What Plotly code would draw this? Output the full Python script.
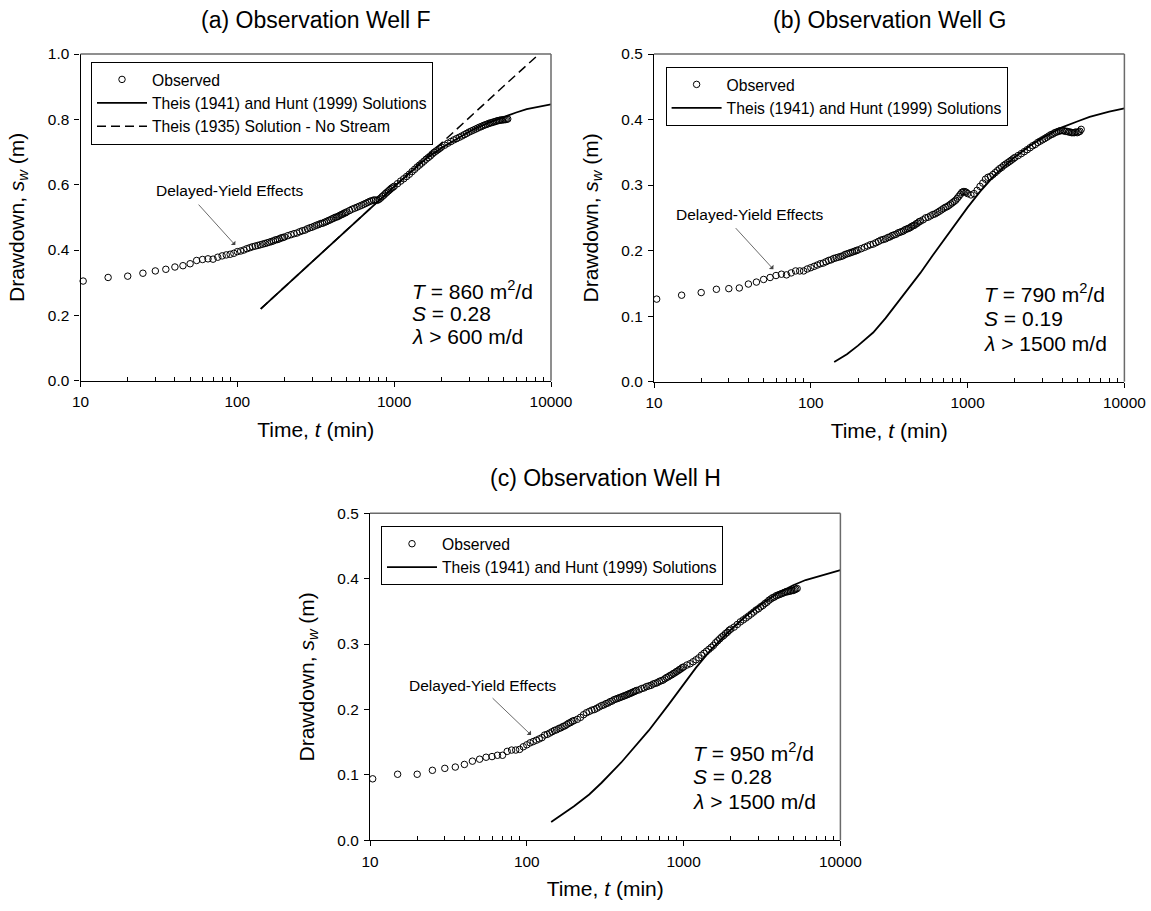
import math
import plotly.graph_objects as go

W, H = 1151, 911
FONT = "Liberation Sans, Arial, Helvetica, sans-serif"

# ---------------- data ----------------
t_obs = [10.4, 15, 20, 25, 30, 35, 40, 45, 50, 55, 60, 65, 70, 75, 80, 85, 90, 95, 100,
         105, 110, 115, 120, 125, 130, 135, 140, 145, 150, 155, 160, 165, 170, 175, 180, 185, 190, 195, 200,
         210, 220, 230, 240, 250, 260, 270, 280, 290, 300, 310, 320, 330, 340, 350, 360, 370, 380, 390, 400,
         410, 420, 430, 440, 450, 460, 470, 480, 490, 500,
         520, 540, 560, 580, 600, 620, 640, 660, 680, 700, 720, 740, 760, 780, 800, 820, 840, 860, 880, 900,
         920, 940, 960, 980, 1000,
         1050, 1100, 1150, 1200, 1250, 1300, 1350, 1400, 1450, 1500, 1550, 1600, 1650, 1700, 1750, 1800,
         1850, 1900, 1950, 2000,
         2100, 2200, 2300, 2400, 2500, 2600, 2700, 2800, 2900, 3000, 3100, 3200, 3300, 3400, 3500, 3600,
         3700, 3800, 3900, 4000, 4100, 4200, 4300, 4400, 4500, 4600, 4700, 4800, 4900, 5000, 5100, 5200, 5300]

obs_F = [0.305, 0.316, 0.320, 0.329, 0.336, 0.341, 0.348, 0.352, 0.358, 0.368, 0.371, 0.373, 0.372, 0.378,
         0.382, 0.385, 0.387, 0.390, 0.395,
         0.397, 0.400, 0.404, 0.407, 0.410, 0.412, 0.414, 0.416, 0.418, 0.420, 0.422, 0.424, 0.426, 0.428,
         0.431, 0.432, 0.434, 0.437, 0.438, 0.440,
         0.444, 0.447, 0.450, 0.452, 0.456, 0.459, 0.461, 0.465, 0.468, 0.470, 0.473, 0.476, 0.478, 0.481,
         0.482, 0.485, 0.487, 0.490, 0.492, 0.495, 0.497, 0.500, 0.501, 0.503, 0.506, 0.508, 0.510, 0.513,
         0.514, 0.517,
         0.521, 0.525, 0.528, 0.531, 0.534, 0.537, 0.540, 0.543, 0.546, 0.549, 0.551, 0.553, 0.553, 0.552,
         0.555, 0.559, 0.564, 0.568, 0.573, 0.577, 0.581, 0.585, 0.589, 0.592, 0.595,
         0.603, 0.611, 0.618, 0.625, 0.632, 0.640, 0.647, 0.654, 0.660, 0.666, 0.672, 0.678, 0.683, 0.688,
         0.694, 0.699, 0.703, 0.707, 0.711, 0.715,
         0.721, 0.727, 0.732, 0.737, 0.741, 0.745, 0.749, 0.753, 0.757, 0.761, 0.764, 0.767, 0.770, 0.773,
         0.776, 0.778, 0.781, 0.783, 0.785, 0.787, 0.789, 0.790, 0.792, 0.793, 0.795, 0.796, 0.797, 0.798,
         0.798, 0.799, 0.799, 0.800, 0.801]

obs_G = [0.126, 0.132, 0.136, 0.141, 0.142, 0.143, 0.149, 0.152, 0.156, 0.159, 0.162, 0.164, 0.163, 0.166,
         0.169, 0.169, 0.169, 0.172, 0.174,
         0.176, 0.178, 0.180, 0.181, 0.183, 0.185, 0.186, 0.188, 0.189, 0.190, 0.191, 0.192, 0.194, 0.195,
         0.196, 0.197, 0.198, 0.199, 0.200, 0.201,
         0.203, 0.205, 0.207, 0.209, 0.210, 0.212, 0.214, 0.216, 0.217, 0.218, 0.220, 0.221, 0.223, 0.224,
         0.225, 0.227, 0.228, 0.229, 0.230, 0.232, 0.233, 0.234, 0.235, 0.237, 0.238, 0.239, 0.241, 0.242,
         0.244, 0.245,
         0.247, 0.250, 0.251, 0.253, 0.255, 0.256, 0.258, 0.260, 0.262, 0.264, 0.266, 0.267, 0.269, 0.271,
         0.273, 0.275, 0.277, 0.280, 0.283, 0.286, 0.289, 0.290, 0.290, 0.289, 0.287,
         0.285, 0.287, 0.292, 0.298, 0.303, 0.309, 0.312, 0.313, 0.316, 0.319, 0.322, 0.325, 0.327, 0.330,
         0.332, 0.334, 0.336, 0.338, 0.340, 0.342,
         0.345, 0.348, 0.351, 0.354, 0.357, 0.360, 0.362, 0.365, 0.367, 0.369, 0.371, 0.373, 0.375, 0.377,
         0.378, 0.380, 0.381, 0.382, 0.383, 0.383, 0.383, 0.382, 0.382, 0.381, 0.381, 0.380, 0.380, 0.380,
         0.381, 0.380, 0.381, 0.382, 0.385]

obs_H = [0.094, 0.101, 0.101, 0.107, 0.110, 0.112, 0.116, 0.121, 0.124, 0.127, 0.128, 0.130, 0.130, 0.136,
         0.138, 0.138, 0.139, 0.143, 0.146,
         0.149, 0.151, 0.153, 0.155, 0.157, 0.161, 0.162, 0.164, 0.166, 0.168, 0.169, 0.171, 0.172, 0.174,
         0.175, 0.177, 0.179, 0.180, 0.182, 0.183,
         0.185, 0.188, 0.192, 0.195, 0.197, 0.199, 0.200, 0.202, 0.204, 0.206, 0.207, 0.209, 0.210, 0.212,
         0.213, 0.215, 0.216, 0.217, 0.218, 0.219, 0.220, 0.221, 0.222, 0.223, 0.224, 0.225, 0.226, 0.227,
         0.228, 0.229,
         0.230, 0.232, 0.233, 0.235, 0.236, 0.237, 0.239, 0.240, 0.241, 0.243, 0.244, 0.245, 0.247, 0.249,
         0.250, 0.252, 0.253, 0.255, 0.256, 0.258, 0.259, 0.261, 0.262, 0.264, 0.265,
         0.268, 0.270, 0.273, 0.276, 0.279, 0.283, 0.286, 0.289, 0.292, 0.295, 0.298, 0.302, 0.305, 0.308,
         0.311, 0.313, 0.316, 0.318, 0.321, 0.323,
         0.326, 0.330, 0.334, 0.337, 0.340, 0.343, 0.346, 0.349, 0.352, 0.354, 0.357, 0.359, 0.362, 0.364,
         0.367, 0.369, 0.371, 0.372, 0.374, 0.375, 0.376, 0.377, 0.378, 0.379, 0.380, 0.380, 0.381, 0.381,
         0.382, 0.382, 0.383, 0.384, 0.385]

# Theis (1941) and Hunt (1999) solutions
t_sol_F = [141, 200, 300, 500, 700, 1000, 1300, 1600, 2000, 2500, 3000, 4000, 5000, 6000, 7000, 8500, 10000]
sol_F = [0.220, 0.287, 0.364, 0.462, 0.526, 0.594, 0.642, 0.680, 0.712, 0.740, 0.762, 0.790, 0.808, 0.821,
         0.831, 0.840, 0.846]
# Theis (1935) solution - no stream
t_nostream_F = [141, 200, 300, 500, 700, 1000, 1500, 2000, 3000, 5000, 8400]
nostream_F = [0.220, 0.287, 0.364, 0.462, 0.526, 0.594, 0.671, 0.726, 0.804, 0.902, 1.000]

t_sol_G = [141, 170, 200, 250, 300, 400, 500, 600, 700, 800, 1000, 1200, 1500, 2000, 2500, 3000, 4000,
           5000, 6000, 8000, 10000]
sol_G = [0.030, 0.042, 0.055, 0.075, 0.097, 0.135, 0.166, 0.193, 0.215, 0.234, 0.266, 0.290, 0.316, 0.343,
         0.360, 0.372, 0.388, 0.397, 0.404, 0.412, 0.417]

t_sol_H = [143, 170, 200, 250, 300, 400, 500, 600, 800, 1000, 1200, 1500, 2000, 2500, 3000, 4000, 5000,
           6000, 8000, 10000]
sol_H = [0.028, 0.040, 0.052, 0.070, 0.088, 0.119, 0.146, 0.168, 0.207, 0.238, 0.264, 0.292, 0.322, 0.343,
         0.358, 0.378, 0.390, 0.398, 0.407, 0.413]

x_tick_vals = [10, 100, 1000, 10000]
x_tick_text = ["10", "100", "1000", "10000"]
x_minor_vals = [20, 30, 40, 50, 60, 70, 80, 90, 200, 300, 400, 500, 600, 700, 800, 900,
                2000, 3000, 4000, 5000, 6000, 7000, 8000, 9000]
y_ticks_F = [0.0, 0.2, 0.4, 0.6, 0.8, 1.0]
y_ticks_F_text = ["0.0", "0.2", "0.4", "0.6", "0.8", "1.0"]
y_ticks_GH = [0.0, 0.1, 0.2, 0.3, 0.4, 0.5]
y_ticks_GH_text = ["0.0", "0.1", "0.2", "0.3", "0.4", "0.5"]

titles = ["(a) Observation Well F", "(b) Observation Well G", "(c) Observation Well H"]
param_lines = [
    ["<i>T</i> = 860 m<sup>2</sup>/d", "<i>S</i> = 0.28", "<i>λ</i> &gt; 600 m/d"],
    ["<i>T</i> = 790 m<sup>2</sup>/d", "<i>S</i> = 0.19", "<i>λ</i> &gt; 1500 m/d"],
    ["<i>T</i> = 950 m<sup>2</sup>/d", "<i>S</i> = 0.28", "<i>λ</i> &gt; 1500 m/d"],
]
name_obs = "Observed"
name_sol = "Theis (1941) and Hunt (1999) Solutions"
name_nostream = "Theis (1935) Solution - No Stream"
note = "Delayed-Yield Effects"

# ---------------- layout geometry (pixels) ----------------
panels = [
    dict(x0=80.5, x1=551.0, y0=54.0, y1=380.7, yr=[0, 1.0], yt=y_ticks_F, ytt=y_ticks_F_text,
         leg=(91, 61.7), title_y=20, params=(409.7, [290, 313.5, 337]),
         note_xy=(229.6, 190.7), tip=(97, 0.415), tail=(-38, -42)),
    dict(x0=654.0, x1=1124.4, y0=54.0, y1=381.7, yr=[0, 0.5], yt=y_ticks_GH, ytt=y_ticks_GH_text,
         leg=(665.6, 66.7), title_y=20, params=(982.2, [293.3, 318.3, 343.3]),
         note_xy=(750.4, 214.3), tip=(57.7, 0.1716), tail=(-39, -42.6)),
    dict(x0=370.0, x1=840.4, y0=513.3, y1=840.3, yr=[0, 0.5], yt=y_ticks_GH, ytt=y_ticks_GH_text,
         leg=(381.0, 526.0), title_y=478.3, params=(690.8, [752, 776.5, 801]),
         note_xy=(483.0, 685.0), tip=(106.5, 0.161), tail=(-40, -38.3)),
]

obs_sets = [obs_F, obs_G, obs_H]
sol_sets = [(t_sol_F, sol_F), (t_sol_G, sol_G), (t_sol_H, sol_H)]

fig = go.Figure()
layout = dict(
    width=W, height=H, margin=dict(l=0, r=0, t=0, b=0),
    paper_bgcolor="white", plot_bgcolor="white",
    font=dict(family=FONT, color="black", size=15),
    showlegend=True, template="none",
)
annotations = []
shapes = []

for i, p in enumerate(panels):
    k = "" if i == 0 else str(i + 1)
    xa, ya = "x" + k, "y" + k
    legname = "legend" + k

    if i == 0:
        fig.add_trace(go.Scatter(
            x=t_nostream_F, y=nostream_F, mode="lines", name=name_nostream,
            line=dict(color="black", width=1.5, dash="9px,5px"),
            xaxis=xa, yaxis=ya, legend=legname, legendrank=3, showlegend=True))
    ts, ss = sol_sets[i]
    fig.add_trace(go.Scatter(
        x=ts, y=ss, mode="lines", name=name_sol, line=dict(color="black", width=1.8),
        xaxis=xa, yaxis=ya, legend=legname, legendrank=2))
    fig.add_trace(go.Scatter(
        x=t_obs, y=obs_sets[i], mode="markers", name=name_obs,
        marker=dict(symbol="circle-open", size=6.5, color="black", line=dict(width=1, color="black")),
        xaxis=xa, yaxis=ya, legend=legname, legendrank=1, cliponaxis=False))

    layout["xaxis" + k] = dict(
        type="log", domain=[p["x0"] / W, p["x1"] / W], anchor=ya, range=[1, 4],
        tickmode="array", tickvals=x_tick_vals, ticktext=x_tick_text,
        ticks="outside", ticklen=5, tickwidth=1, tickcolor="black", ticklabelstandoff=2,
        minor=dict(tickmode="array", tickvals=x_minor_vals, ticks="inside", ticklen=4,
                   tickwidth=1, tickcolor="black", showgrid=False),
        showline=True, linecolor="black", linewidth=1.3, showgrid=False, zeroline=False,
        tickfont=dict(size=15.4, family=FONT, color="black"), automargin=False,
        title=dict(text="Time, <i>t</i> (min)", font=dict(size=21, family=FONT, color="black"), standoff=12),
    )
    layout["yaxis" + k] = dict(
        domain=[1 - p["y1"] / H, 1 - p["y0"] / H], anchor=xa, range=p["yr"],
        tickmode="array", tickvals=p["yt"], ticktext=p["ytt"],
        ticks="outside", ticklen=5, tickwidth=1, tickcolor="black", ticklabelstandoff=2,
        showline=True, linecolor="black", linewidth=1.3, showgrid=False, zeroline=False,
        tickfont=dict(size=15.4, family=FONT, color="black"), automargin=False,
        title=dict(text="Drawdown, <i>s<sub>w</sub></i> (m)", font=dict(size=21, family=FONT, color="black"),
                   standoff=17),
    )
    layout[legname] = dict(
        x=p["leg"][0] / W, y=1 - p["leg"][1] / H, xanchor="left", yanchor="top",
        xref="paper", yref="paper",
        bordercolor="black", borderwidth=1, bgcolor="white",
        font=dict(size=15.7, family=FONT, color="black"), itemwidth=50, tracegroupgap=0,
    )

    # frame: top and right borders
    for (x0, x1, y0, y1) in [(0, 1, 1, 1), (1, 1, 0, 1)]:
        shapes.append(dict(type="line", xref=xa + " domain", yref=ya + " domain",
                           x0=x0, x1=x1, y0=y0, y1=y1, line=dict(color="#6a6a6a", width=1.5)))

    # panel title
    annotations.append(dict(text=titles[i], xref="paper", yref="paper",
                            x=(p["x0"] + p["x1"]) / 2 / W, y=1 - p["title_y"] / H,
                            xanchor="center", yanchor="middle", showarrow=False,
                            font=dict(size=23, family=FONT, color="black")))
    # parameters
    px0, pys = p["params"]
    for line, py in zip(param_lines[i], pys):
        annotations.append(dict(text=line, xref="paper", yref="paper", x=px0 / W, y=1 - py / H,
                                xanchor="left", yanchor="middle", showarrow=False,
                                font=dict(size=21, family=FONT, color="black")))
    # delayed-yield note + arrow
    annotations.append(dict(text=note, xref="paper", yref="paper",
                            x=p["note_xy"][0] / W, y=1 - p["note_xy"][1] / H,
                            xanchor="center", yanchor="middle", showarrow=False,
                            font=dict(size=15.5, family=FONT, color="black")))
    annotations.append(dict(text="", xref=xa, yref=ya, x=math.log10(p["tip"][0]), y=p["tip"][1],
                            showarrow=True, ax=p["tail"][0], ay=p["tail"][1], axref="pixel", ayref="pixel",
                            arrowhead=1, arrowsize=1.3, arrowwidth=0.8, arrowcolor="#444"))

layout["annotations"] = annotations
layout["shapes"] = shapes
fig.update_layout(**layout)

fig.write_html("out.html")
